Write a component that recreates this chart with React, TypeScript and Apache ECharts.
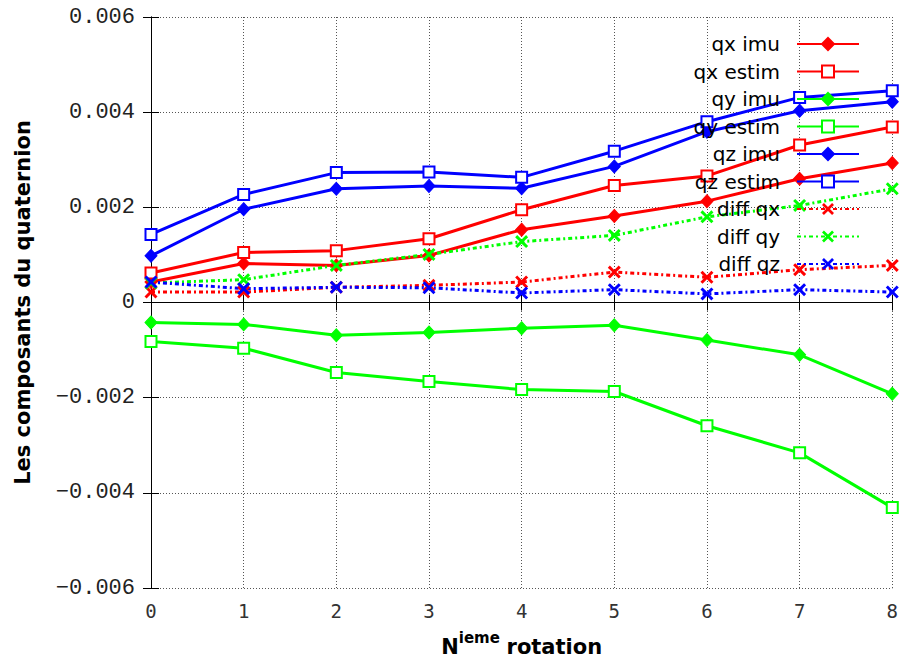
import React, { useEffect, useRef } from "react";
import * as echarts from "echarts";

const rotations = [0, 1, 2, 3, 4, 5, 6, 7, 8];
const yTicks = { min: -0.006, max: 0.006, interval: 0.002 };

const qxImu = [0.00043, 0.00082, 0.00078, 0.00099, 0.00153, 0.00182, 0.00213, 0.0026, 0.00293];
const qxEstim = [0.00062, 0.00105, 0.00109, 0.00134, 0.00195, 0.00246, 0.00266, 0.00331, 0.00369];
const qyImu = [-0.00042, -0.00046, -0.00069, -0.00063, -0.00054, -0.00048, -0.00079, -0.0011, -0.00192];
const qyEstim = [-0.00082, -0.00096, -0.00147, -0.00166, -0.00183, -0.00187, -0.00259, -0.00316, -0.00431];
const qzImu = [0.00098, 0.00196, 0.00239, 0.00245, 0.0024, 0.00286, 0.00359, 0.00403, 0.00422];
const qzEstim = [0.00143, 0.00227, 0.00273, 0.00274, 0.00263, 0.00318, 0.0038, 0.00431, 0.00445];
const diffQx = [0.00022, 0.00022, 0.00032, 0.00036, 0.00043, 0.00064, 0.00053, 0.00069, 0.00078];
const diffQy = [0.00041, 0.00048, 0.00078, 0.00101, 0.00128, 0.00141, 0.0018, 0.00204, 0.00239];
const diffQz = [0.00043, 0.00029, 0.00032, 0.00031, 0.0002, 0.00027, 0.00018, 0.00027, 0.00022];

const seriesDefs = [
  { name: "qx imu", values: qxImu, color: "#ff0000", kind: "imu" },
  { name: "qx estim", values: qxEstim, color: "#ff0000", kind: "estim" },
  { name: "qy imu", values: qyImu, color: "#00ff00", kind: "imu" },
  { name: "qy estim", values: qyEstim, color: "#00ff00", kind: "estim" },
  { name: "qz imu", values: qzImu, color: "#0000ff", kind: "imu" },
  { name: "qz estim", values: qzEstim, color: "#0000ff", kind: "estim" },
  { name: "diff qx", values: diffQx, color: "#ff0000", kind: "diff" },
  { name: "diff qy", values: diffQy, color: "#00ff00", kind: "diff" },
  { name: "diff qz", values: diffQz, color: "#0000ff", kind: "diff" },
];

const CROSS =
  "path://M0,1.6L1.6,0L5,3.4L8.4,0L10,1.6L6.6,5L10,8.4L8.4,10L5,6.6L1.6,10L0,8.4L3.4,5Z";

function fmtY(v: number): string {
  if (Math.abs(v) < 1e-9) return "0";
  return (v < 0 ? "\u2212" : "") + Math.abs(v).toFixed(3);
}

export default function App() {
  const ref = useRef<HTMLDivElement>(null);
  useEffect(() => {
    if (!ref.current) return;
    const chart = echarts.init(ref.current, null, { renderer: "svg" });

    const series = seriesDefs.map((d) => {
      const base: any = {
        name: d.name,
        type: "line",
        data: rotations.map((r, i) => [r, d.values[i]]),
        color: d.color,
        showAllSymbol: true,
      };
      if (d.kind === "imu") {
        base.symbol = "diamond";
        base.symbolSize = [12, 13];
        base.lineStyle = { width: 3, color: d.color, type: "solid" };
        base.itemStyle = { color: d.color, borderColor: d.color, borderWidth: 1 };
      } else if (d.kind === "estim") {
        base.symbol = "emptyRect";
        base.symbolSize = 11;
        base.lineStyle = { width: 3, color: d.color, type: "solid" };
        base.itemStyle = { color: d.color, borderColor: d.color, borderWidth: 2.5 };
      } else {
        base.symbol = CROSS;
        base.symbolSize = 13;
        base.lineStyle = { width: 3, color: d.color, type: [4, 3, 2, 3] };
        base.itemStyle = { color: d.color };
      }
      return base;
    });

    const axisLine = { show: true, lineStyle: { color: "#000", width: 1 } };
    const axisTick = { show: true, inside: true, length: 8, lineStyle: { color: "#000", width: 1 } };
    const splitLine = { show: true, lineStyle: { color: "#555", type: [1, 2], width: 1 } };

    chart.setOption({
      animation: false,
      backgroundColor: "#fff",
      grid: { left: 151, right: 4, top: 17, bottom: 77, containLabel: false },
      legend: {
        orient: "vertical",
        align: "right",
        right: 36,
        top: 29,
        itemWidth: 62,
        itemHeight: 15,
        itemGap: 7.5,
        textStyle: {
          fontFamily: "DejaVu Sans",
          fontSize: 20,
          lineHeight: 15,
          color: "#000",
          padding: [0, 12, 0, 0],
        },
        data: seriesDefs.map((d) => d.name),
      },
      xAxis: [
        {
          type: "value",
          min: rotations[0],
          max: rotations[rotations.length - 1],
          interval: 1,
          position: "bottom",
          axisLine,
          axisTick,
          splitLine,
          axisLabel: {
            fontFamily: "DejaVu Sans Mono",
            fontSize: 19,
            color: "#333",
            margin: 13,
          },
          name: "{a|N}{b|ieme}  {a|rotation}",
          nameLocation: "middle",
          nameGap: 42,
          nameTextStyle: {
            rich: {
              a: { fontFamily: "DejaVu Sans", fontWeight: "bold", fontSize: 21, color: "#000", verticalAlign: "bottom", lineHeight: 27 },
              b: { fontFamily: "DejaVu Sans", fontWeight: "bold", fontSize: 15, color: "#000", verticalAlign: "top", lineHeight: 27 },
            },
          },
        },
        {
          type: "value",
          min: rotations[0],
          max: rotations[rotations.length - 1],
          interval: 1,
          position: "top",
          axisLine,
          axisTick,
          splitLine: { show: false },
          axisLabel: { show: false },
        },
      ],
      yAxis: [
        {
          type: "value",
          min: yTicks.min,
          max: yTicks.max,
          interval: yTicks.interval,
          position: "left",
          axisLine,
          axisTick,
          splitLine,
          axisLabel: {
            fontFamily: "Liberation Mono",
            fontSize: 22,
            color: "#222",
            margin: 16,
            formatter: fmtY,
          },
          name: "Les composants du quaternion",
          nameLocation: "middle",
          nameRotate: 90,
          nameGap: 118,
          nameTextStyle: {
            fontFamily: "DejaVu Sans",
            fontWeight: "bold",
            fontSize: 21,
            color: "#000",
          },
        },
        {
          type: "value",
          min: yTicks.min,
          max: yTicks.max,
          interval: yTicks.interval,
          position: "right",
          axisLine,
          axisTick,
          splitLine: { show: false },
          axisLabel: { show: false },
        },
      ],
      series,
    });
    return () => chart.dispose();
  }, []);

  return <div ref={ref} style={{ width: 901, height: 665, position: "absolute", left: 0, top: 0 }} />;
}
